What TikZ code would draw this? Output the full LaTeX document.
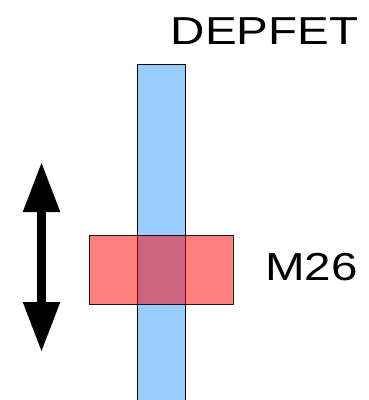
\documentclass[tikz,border=0pt]{standalone}
\usepackage{fontspec}
\setmainfont{Liberation Sans}
\usetikzlibrary{arrows.meta}
\definecolor{barblue}{HTML}{99CCFF}
\tikzset{
  plane/.style={draw=black, line width=1pt, inner sep=0pt, outer sep=0pt},
  sensor/.style={plane, fill=barblue, minimum width=48pt, minimum height=345pt},
  telescope/.style={plane, fill=red, fill opacity=0.5, draw opacity=0.85,
                    minimum width=144pt, minimum height=69.5pt},
  label/.style={font=\fontsize{39}{39}\selectfont, inner sep=0pt, anchor=base,
                xscale=1.22, transform shape},
  motion/.style={line width=8.5pt, {Triangle[width=35pt,length=50pt]}-{Triangle[width=35pt,length=50pt]}}
}
\begin{document}
\begin{tikzpicture}[x=1pt,y=-1pt]
  \useasboundingbox (0,0) rectangle (369,400);
  % DEPFET sensor bar, running off the bottom edge
  \node[sensor, anchor=north] (depfet) at (161.3,64.7) {};
  % M26 telescope plane in front of it
  \node[telescope] (m26) at (161.3,270.1) {};
  \node[label] (depfetlabel) at (264.5,44.3) {DEPFET};
  \node[label] (m26label) at (311.5,280) {M26};
  % vertical scan direction
  \coordinate (top) at (41.5,162);
  \coordinate (bottom) at (41.5,352);
  \draw[motion] (top) -- (bottom);
\end{tikzpicture}
\end{document}
